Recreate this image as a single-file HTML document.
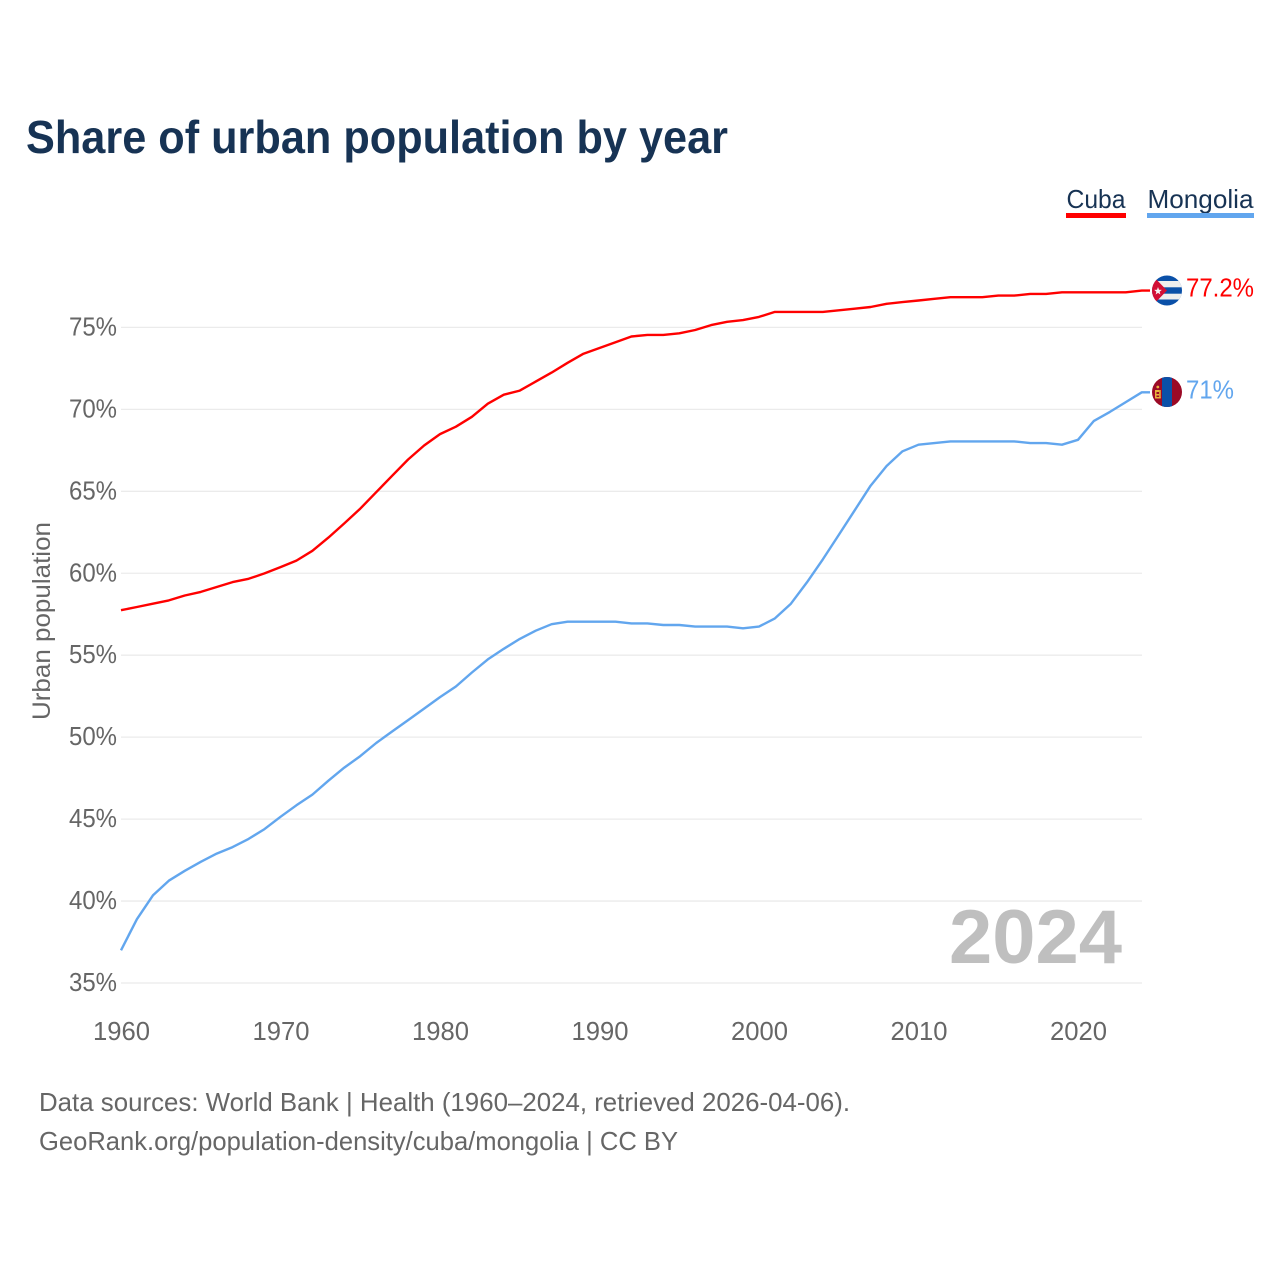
<!DOCTYPE html>
<html>
<head>
<meta charset="utf-8">
<style>
html,body{margin:0;padding:0;background:#fff;}
svg{display:block;font-family:"Liberation Sans",sans-serif;}
</style>
</head>
<body>
<svg id="chart" width="1280" height="1280" viewBox="0 0 1280 1280" xmlns="http://www.w3.org/2000/svg">
  <defs>
    <clipPath id="clip-cuba"><circle cx="1167" cy="290.5" r="15"/></clipPath>
    <clipPath id="clip-mongolia"><circle cx="1167" cy="392" r="15"/></clipPath>
  </defs>
  <rect width="1280" height="1280" fill="#ffffff"/>
  <text x="26" y="153" font-size="46" font-weight="bold" fill="#173354" textLength="702" lengthAdjust="spacingAndGlyphs">Share of urban population by year</text>

  <g>
    <text x="1066.500" y="208" font-size="26" fill="#173354" textLength="59" lengthAdjust="spacingAndGlyphs">Cuba</text>
    <rect x="1066" y="213" width="60" height="5" fill="#ff0000"/>
  </g>
  <g>
    <text x="1147.500" y="208" font-size="26" fill="#173354" textLength="106" lengthAdjust="spacingAndGlyphs">Mongolia</text>
    <rect x="1147" y="213" width="107" height="5" fill="#62a6ee"/>
  </g>

  <g id="grid"></g>
  <g id="yticks"></g>
  <g id="xticks"></g>
  <text transform="translate(50,621) rotate(-90)" text-anchor="middle" font-size="25" fill="#666666" textLength="198" lengthAdjust="spacingAndGlyphs">Urban population</text>

  <g id="series" transform="translate(0,-0.7)"></g>

  <g clip-path="url(#clip-cuba)">
    <rect x="1152" y="275" width="30" height="31" fill="#0a50a8"/>
    <rect x="1152" y="281" width="30" height="6.300" fill="#eeeeee"/>
    <rect x="1152" y="293.700" width="30" height="5.800" fill="#eeeeee"/>
    <polygon points="1152,275 1167,290.500 1152,306" fill="#d20f35"/>
    <polygon points="1158,287 1159,289.800 1161.800,289.900 1159.600,291.700 1160.400,294.500 1158,292.900 1155.600,294.500 1156.400,291.700 1154.200,289.900 1157,289.800" fill="#f4f4f4"/>
  </g>
  <g clip-path="url(#clip-mongolia)">
    <rect x="1152" y="377" width="30" height="30" fill="#9b0a26"/>
    <rect x="1162" y="377" width="10" height="30" fill="#0a50a8"/>
    <rect x="1155" y="390" width="1.500" height="8" fill="#e8b33c"/>
    <rect x="1159.200" y="390" width="1.500" height="8" fill="#e8b33c"/>
    <rect x="1156.500" y="390" width="2.700" height="2" fill="#e8b33c"/>
    <rect x="1156.500" y="394" width="2.700" height="1.500" fill="#e8b33c"/>
    <rect x="1155" y="397" width="5.700" height="1.500" fill="#e8b33c"/>
    <circle cx="1157.800" cy="387" r="1.400" fill="#e8b33c"/>
  </g>

  <text id="label-cuba" x="1186" y="296.500" font-size="26" fill="#ff0000" textLength="68" lengthAdjust="spacingAndGlyphs"></text>
  <text id="label-mongolia" x="1186" y="398.500" font-size="26" fill="#62a6ee" textLength="48" lengthAdjust="spacingAndGlyphs"></text>

  <text x="1122" y="963" text-anchor="end" font-size="76" font-weight="bold" fill="#bfbfbf" textLength="173" lengthAdjust="spacingAndGlyphs">2024</text>

  <text x="39" y="1111" font-size="26" fill="#666666" textLength="811" lengthAdjust="spacingAndGlyphs">Data sources: World Bank | Health (1960–2024, retrieved 2026-04-06).</text>
  <text x="39" y="1150" font-size="26" fill="#666666" textLength="639" lengthAdjust="spacingAndGlyphs">GeoRank.org/population-density/cuba/mongolia | CC BY</text>

  <script>
    const startYear = 1960;
    const yTickValues = [35, 40, 45, 50, 55, 60, 65, 70, 75];
    const xTickValues = [1960, 1970, 1980, 1990, 2000, 2010, 2020];
    const cubaValues = [57.7, 57.9, 58.1, 58.3, 58.6, 58.82, 59.12, 59.42, 59.62, 59.95,
      60.33, 60.73, 61.33, 62.13, 63.0, 63.9, 64.9, 65.9, 66.9, 67.75,
      68.45, 68.9, 69.5, 70.3, 70.85, 71.1, 71.65, 72.2, 72.8, 73.35,
      73.7, 74.05, 74.4, 74.5, 74.5, 74.6, 74.8, 75.1, 75.3, 75.4,
      75.6, 75.9, 75.9, 75.9, 75.9, 76.0, 76.1, 76.2, 76.4, 76.5,
      76.6, 76.7, 76.8, 76.8, 76.8, 76.9, 76.9, 77.0, 77.0, 77.1,
      77.1, 77.1, 77.1, 77.1, 77.2];
    const mongoliaValues = [36.95, 38.85, 40.3, 41.2, 41.8, 42.35, 42.85, 43.25, 43.75, 44.35,
      45.1, 45.8, 46.45, 47.3, 48.1, 48.8, 49.6, 50.3, 51.0, 51.7,
      52.4, 53.05, 53.9, 54.7, 55.35, 55.95, 56.45, 56.85, 57.0, 57.0,
      57.0, 57.0, 56.9, 56.9, 56.8, 56.8, 56.7, 56.7, 56.7, 56.6,
      56.7, 57.2, 58.1, 59.4, 60.8, 62.3, 63.8, 65.3, 66.5, 67.4,
      67.8, 67.9, 68.0, 68.0, 68.0, 68.0, 68.0, 67.9, 67.9, 67.8,
      68.1, 69.25, 69.8, 70.4, 71.0];

    const NS = 'http://www.w3.org/2000/svg';
    const xScale = function (year) { return 121 + (year - 1960) * 15.95; };
    const yScale = function (pct) { return 983 - (pct - 35) * 16.39; };

    const grid = document.getElementById('grid');
    const yticks = document.getElementById('yticks');
    const xticks = document.getElementById('xticks');
    const series = document.getElementById('series');

    yTickValues.forEach(function (v) {
      const line = document.createElementNS(NS, 'line');
      
      
      line.setAttribute('x1', 121);
      line.setAttribute('x2', 1142);
      line.setAttribute('y1', yScale(v));
      line.setAttribute('y2', yScale(v));
      line.setAttribute('stroke', '#ebebeb');
      line.setAttribute('stroke-width', 1.3);
      grid.appendChild(line);

      const label = document.createElementNS(NS, 'text');
      
      
      label.setAttribute('x', 117);
      label.setAttribute('y', yScale(v) + 8);
      label.setAttribute('text-anchor', 'end');
      label.setAttribute('font-size', 26);
      label.setAttribute('fill', '#666666');
      label.setAttribute('textLength', 48);
      label.setAttribute('lengthAdjust', 'spacingAndGlyphs');
      label.textContent = v + '%';
      yticks.appendChild(label);
    });

    xTickValues.forEach(function (y) {
      const label = document.createElementNS(NS, 'text');
      
      
      label.setAttribute('x', xScale(y) + 0.5);
      label.setAttribute('y', 1040);
      label.setAttribute('text-anchor', 'middle');
      label.setAttribute('font-size', 26);
      label.setAttribute('fill', '#666666');
      label.setAttribute('textLength', 57);
      label.setAttribute('lengthAdjust', 'spacingAndGlyphs');
      label.textContent = y;
      xticks.appendChild(label);
    });

    function buildPath(values) {
      const pts = values.map(function (v, i) {
        return xScale(startYear + i).toFixed(1) + ',' + yScale(v).toFixed(1);
      });
      const last = values[values.length - 1];
      pts.push('1150,' + yScale(last).toFixed(1));
      return 'M' + pts.join('L');
    }

    const cubaLine = document.createElementNS(NS, 'path');
    
    
    cubaLine.setAttribute('d', buildPath(cubaValues));
    cubaLine.setAttribute('fill', 'none');
    cubaLine.setAttribute('stroke', '#ff0000');
    cubaLine.setAttribute('stroke-width', 2.4);
    cubaLine.setAttribute('stroke-linejoin', 'round');
    series.appendChild(cubaLine);

    const mongoliaLine = document.createElementNS(NS, 'path');
    
    
    mongoliaLine.setAttribute('d', buildPath(mongoliaValues));
    mongoliaLine.setAttribute('fill', 'none');
    mongoliaLine.setAttribute('stroke', '#62a6ee');
    mongoliaLine.setAttribute('stroke-width', 2.4);
    mongoliaLine.setAttribute('stroke-linejoin', 'round');
    series.appendChild(mongoliaLine);

    document.getElementById('label-cuba').textContent = cubaValues[cubaValues.length - 1] + '%';
    document.getElementById('label-mongolia').textContent = mongoliaValues[mongoliaValues.length - 1] + '%';
  </script>
</svg>
</body>
</html>
